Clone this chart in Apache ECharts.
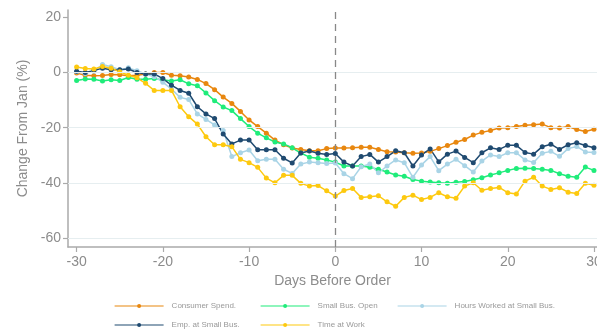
<!DOCTYPE html>
<html><head><meta charset="utf-8">
<script src="https://cdn.jsdelivr.net/npm/echarts@6/dist/echarts.min.js"></script>
<style>html,body{margin:0;padding:0;background:#fff}#c{width:597px;height:333px}</style>
</head><body><div id="c"></div>
<script>
const days = [-30,-29,-28,-27,-26,-25,-24,-23,-22,-21,-20,-19,-18,-17,-16,-15,-14,-13,-12,-11,-10,-9,-8,-7,-6,-5,-4,-3,-2,-1,0,1,2,3,4,5,6,7,8,9,10,11,12,13,14,15,16,17,18,19,20,21,22,23,24,25,26,27,28,29,30];
const consumerSpend = [-0.2,-1.0,-1.2,-1.1,-0.7,-0.8,-1.2,-1.0,-0.5,0.0,0.0,-1.0,-1.2,-1.6,-2.5,-4.0,-6.2,-8.9,-11.2,-14.1,-17.2,-19.6,-22.0,-24.5,-26.2,-27.4,-27.9,-28.4,-28.4,-27.6,-27.4,-27.4,-27.3,-27.1,-27.1,-27.9,-28.7,-28.8,-29.1,-29.3,-29.2,-28.6,-27.6,-26.5,-25.3,-24.3,-22.7,-21.7,-21.0,-20.1,-20.0,-19.6,-19.1,-18.9,-18.7,-20.0,-20.1,-19.6,-20.7,-21.4,-20.6];
const smallBusOpen = [-2.9,-2.3,-2.4,-3.1,-2.6,-2.9,-1.8,-2.4,-2.4,-2.2,-2.6,-3.1,-2.6,-4.1,-4.8,-7.4,-10.2,-12.5,-13.8,-16.7,-19.6,-22.0,-23.7,-25.2,-25.9,-27.3,-29.2,-30.7,-31.1,-31.7,-32.5,-33.9,-33.9,-33.9,-34.4,-35.1,-36.1,-37.2,-37.6,-38.8,-39.4,-39.7,-40.0,-40.2,-39.8,-39.5,-38.9,-38.2,-37.2,-36.4,-35.5,-34.8,-34.7,-34.8,-35.1,-35.5,-36.7,-37.6,-38.0,-34.3,-35.5];
const hoursWorked = [0.3,-0.3,0.5,2.9,2.1,1.0,1.7,0.7,-0.5,-1.5,-3.5,-6.0,-9.0,-9.8,-15.0,-17.0,-19.0,-21.0,-30.5,-29.1,-28.1,-32.0,-31.5,-31.5,-35.1,-36.6,-33.2,-32.5,-32.7,-33.0,-32.8,-36.7,-38.5,-34.2,-33.2,-36.4,-33.9,-31.7,-32.7,-38.0,-33.5,-30.5,-35.6,-33.2,-31.5,-33.8,-36.1,-32.1,-29.9,-30.5,-29.1,-29.1,-31.7,-32.6,-29.3,-28.6,-30.4,-27.6,-26.8,-28.8,-29.0];
const empSmallBus = [0.5,0.0,0.7,1.6,1.0,1.0,1.3,0.0,-0.5,-0.5,-2.2,-4.6,-6.5,-7.5,-12.4,-15.0,-16.7,-22.3,-25.9,-24.5,-24.5,-28.0,-28.0,-28.0,-31.1,-32.8,-29.2,-28.5,-29.3,-29.7,-29.4,-32.5,-33.9,-30.5,-29.7,-32.5,-30.5,-28.4,-29.1,-33.9,-29.9,-27.7,-32.4,-29.6,-28.5,-30.8,-32.7,-29.1,-27.3,-27.9,-26.4,-26.4,-29.0,-29.6,-26.9,-26.0,-27.9,-26.2,-25.5,-26.5,-27.3];
const timeAtWork = [2.0,1.5,1.3,2.2,1.6,0.3,-1.0,-1.9,-3.9,-6.5,-6.5,-6.5,-12.4,-16.0,-18.7,-23.3,-26.2,-26.2,-26.9,-31.5,-32.7,-34.4,-38.3,-40.0,-37.3,-37.3,-40.2,-41.2,-41.0,-42.9,-44.8,-42.8,-42.1,-45.3,-45.1,-44.7,-46.9,-48.5,-45.3,-44.5,-46.1,-45.3,-43.6,-45.1,-45.6,-41.2,-40.0,-42.7,-42.1,-41.7,-43.6,-44.1,-39.4,-38.0,-41.2,-42.4,-41.8,-43.4,-43.9,-40.2,-40.9];
const xTicks = [-30,-20,-10,0,10,20,30];
const yTicks = [-60,-40,-20,0,20];
const gridValues = [-60,-40,-20,0];
const orderDay = 0;

const seriesDefs = [
  {name:'Consumer Spend.', values:consumerSpend, color:'#e8870f'},
  {name:'Small Bus. Open', values:smallBusOpen, color:'#1fec7a'},
  {name:'Hours Worked at Small Bus.', values:hoursWorked, color:'#a9d4e6'},
  {name:'Emp. at Small Bus.', values:empSmallBus, color:'#1f4a70'},
  {name:'Time at Work', values:timeAtWork, color:'#fdc90f'}
];

const chart = echarts.init(document.getElementById('c'));
const labelColor = '#8c8c8c';
const font = '"Liberation Sans", Arial, sans-serif';

const series = [{
  type:'line', data:[], silent:true,
  markLine:{
    silent:true, symbol:'none', animation:false,
    label:{show:false},
    data: gridValues.map(v => ({yAxis:v, lineStyle:{color:'#e6eef0', width:1, type:'solid'}}))
      .concat([{xAxis:orderDay, lineStyle:{color:'#888', width:1.3, type:[7,5]}}])
  }
}].concat(seriesDefs.map(s => ({
  name:s.name, type:'line',
  data: days.map((d,i) => [d, s.values[i]]),
  symbol:'circle', symbolSize:5, showSymbol:true,
  lineStyle:{width:1.5, color:s.color},
  itemStyle:{color:s.color},
  emphasis:{disabled:true},
  animation:false
})));

const legendPos = [[114,302],[260,302],[397,302],[114,321],[260,321]];
const legends = seriesDefs.map((s,i) => ({
  data:[{name:s.name, itemStyle:{color:s.color}, lineStyle:{width:1.2, color:s.color}}],
  left:legendPos[i][0], top:legendPos[i][1], padding:0,
  itemWidth:49, itemHeight:5, itemGap:0,
  textStyle:{fontSize:8, color:'#999', fontFamily:font, padding:[0,0,0,3]},
  selectedMode:false
}));

chart.setOption({
  animation:false,
  textStyle:{fontFamily:font},
  grid:{left:68, right:0, top:10, bottom:86, containLabel:false, outerBoundsMode:'none'},
  legend: legends,
  xAxis:{
    type:'value', min:-31, max:30.35,
    name:'Days Before Order', nameLocation:'middle', nameGap:25,
    nameTextStyle:{fontSize:14, color:labelColor, fontFamily:font},
    axisLine:{show:true, onZero:false, lineStyle:{color:'#aaa', width:1.5}},
    axisTick:{show:true, length:5, customValues:xTicks, lineStyle:{color:'#aaa', width:1.2}},
    axisLabel:{customValues:xTicks, fontSize:14, color:labelColor, margin:8, fontFamily:font},
    splitLine:{show:false}
  },
  yAxis:{
    type:'value', min:-63.3, max:22.7,
    name:'Change From Jan (%)', nameLocation:'middle', nameGap:38,
    nameTextStyle:{fontSize:14, color:labelColor, fontFamily:font},
    axisLine:{show:true, onZero:false, lineStyle:{color:'#aaa', width:1.5}},
    axisTick:{show:true, length:5, customValues:yTicks, lineStyle:{color:'#aaa', width:1.2}},
    axisLabel:{customValues:yTicks, fontSize:14, color:labelColor, margin:7, fontFamily:font},
    splitLine:{show:false}
  },
  series: series
});
</script></body></html>
